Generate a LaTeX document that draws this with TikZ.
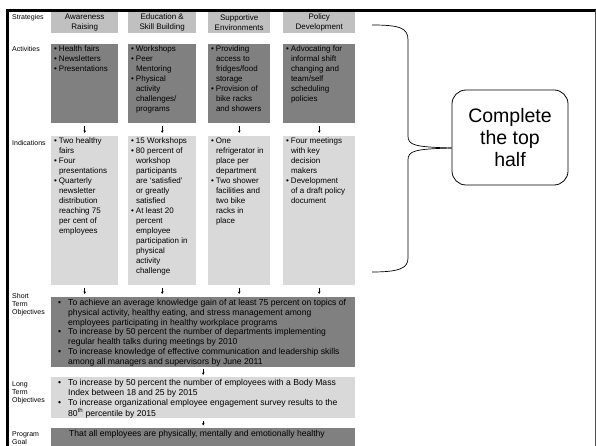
\documentclass[tikz,border=0pt]{standalone}
\usepackage{fontspec}
\setmainfont{Liberation Sans}
\usepackage{xcolor}
\usepackage{tikz}
\usetikzlibrary{arrows.meta}

\definecolor{stratgray}{HTML}{C0C0C0}
\definecolor{actgray}{HTML}{808080}
\definecolor{indgray}{HTML}{D9D9D9}

\newcommand{\cellbox}[3]{\parbox[t][#2][t]{#1}{\raggedright #3}}
\newcommand{\bpt}{\par\hangindent=0.6em\hangafter=1\noindent\makebox[0.6em][l]{\textbullet}}
\newcommand{\wpt}{\par\hangindent=14pt\hangafter=1\noindent\hspace*{4pt}\makebox[10pt][l]{\textbullet}}

\begin{document}
\begin{tikzpicture}[x=1pt, y=-1pt,
    cell/.style={anchor=north west, inner xsep=3pt, inner ysep=2pt, font=\fontsize{8}{10}\selectfont},
    strat/.style={cell, fill=stratgray, minimum height=21pt, inner ysep=0.5pt, align=center},
    act/.style={cell, fill=actgray},
    ind/.style={cell, fill=indgray},
    wide/.style={cell, font=\fontsize{8.6}{9.8}\selectfont},
    rowlabel/.style={anchor=north west, inner sep=0pt, align=left, font=\fontsize{7}{8}\selectfont},
    arr/.style={-{Stealth[length=2.5pt,width=2.6pt]}, line width=0.6pt, shorten <=3pt, shorten >=3pt},
    callout/.style={draw, rounded corners=14pt, line width=0.8pt, minimum width=116pt, minimum height=95pt, align=center, font=\fontsize{19.5}{22}\selectfont}]
    \useasboundingbox (0,0) rectangle (596,446);

    % frame
    \draw[line width=3pt] (7.5,446) -- (7.5,10.5) -- (596,10.5);
    \draw[black!70, line width=1pt] (595,10.5) -- (595,446);

    % row labels
    \node[rowlabel] (lstrat) at (12,14) {Strategies};
    \node[rowlabel] (lact) at (12,46) {Activities};
    \node[rowlabel] (lind) at (12,140) {Indications};
    \node[rowlabel] (lsto) at (12,293) {Short\\Term\\Objectives};
    \node[rowlabel] (llto) at (12,381) {Long\\Term\\Objectives};
    \node[rowlabel] (lpg) at (12,431) {Program\\Goal};

    % strategies
    \node[strat, minimum width=67pt] (str1) at (51,12) {Awareness\\Raising};
    \node[strat, minimum width=68pt] (str2) at (128,12) {Education \&\\Skill Building};
    \node[strat, minimum width=62pt] (str3) at (208,12) {Supportive\\Environments};
    \node[strat, minimum width=72pt] (str4) at (283,12) {Policy\\Development};

    % activities
    \node[act] (act1) at (51,44) {\cellbox{61pt}{75pt}{\bpt Health fairs \bpt Newsletters \bpt Presentations}};
    \node[act] (act2) at (128,44) {\cellbox{62pt}{75pt}{\bpt Workshops \bpt Peer\newline Mentoring \bpt Physical\newline activity\newline challenges/\newline programs}};
    \node[act] (act3) at (208,44) {\cellbox{56pt}{75pt}{\bpt Providing\newline access to\newline fridges/food\newline storage \bpt Provision of\newline bike racks\newline and showers}};
    \node[act] (act4) at (283,44) {\cellbox{66pt}{75pt}{\bpt Advocating for\newline informal shift\newline changing and\newline team/self\newline scheduling\newline policies}};

    % indications
    \node[ind] (ind1) at (51,136) {\cellbox{61pt}{145pt}{\bpt Two healthy\newline fairs \bpt Four\newline presentations \bpt Quarterly\newline newsletter\newline distribution\newline reaching 75\newline per cent of\newline employees}};
    \node[ind] (ind2) at (128,136) {\cellbox{62pt}{145pt}{\bpt 15 Workshops \bpt 80 percent of\newline workshop\newline participants\newline are `satisfied'\newline or greatly\newline satisfied \bpt At least 20\newline percent\newline employee\newline participation in\newline physical\newline activity\newline challenge}};
    \node[ind] (ind3) at (208,136) {\cellbox{56pt}{145pt}{\bpt One\newline refrigerator in\newline place per\newline department \bpt Two shower\newline facilities and\newline two bike\newline racks in\newline place}};
    \node[ind] (ind4) at (283,136) {\cellbox{66pt}{145pt}{\bpt Four meetings\newline with key\newline decision\newline makers \bpt Development\newline of a draft policy\newline document}};

    % objectives and goal
    \node[wide, fill=actgray] (sto) at (51,297) {\cellbox{298pt}{66pt}{\wpt To achieve an average knowledge gain of at least 75 percent on topics of\newline physical activity, healthy eating, and stress management among\newline employees participating in healthy workplace programs \wpt To increase by 50 percent the number of departments implementing\newline regular health talks during meetings by 2010 \wpt To increase knowledge of effective communication and leadership skills\newline among all managers and supervisors by June 2011}};
    \node[wide, fill=indgray] (lto) at (51,377) {\cellbox{298pt}{37pt}{\wpt To increase by 50 percent the number of employees with a Body Mass\newline Index between 18 and 25 by 2015 \wpt To increase organizational employee engagement survey results to the\newline 80\textsuperscript{th} percentile by 2015}};
    \node[wide, fill=actgray] (pg) at (51,428) {\cellbox{298pt}{18pt}{\hspace*{15pt}That all employees are physically, mentally and emotionally healthy}};

    % arrows
    \draw[arr] (act1) -- (ind1);
    \draw[arr] (act2) -- (ind2);
    \draw[arr] (act3) -- (ind3);
    \draw[arr] (act4) -- (ind4);
    \draw[arr] (ind1.south) -- (ind1.south |- sto.north);
    \draw[arr] (ind2.south) -- (ind2.south |- sto.north);
    \draw[arr] (ind3.south) -- (ind3.south |- sto.north);
    \draw[arr] (ind4.south) -- (ind4.south |- sto.north);
    \draw[arr, shorten <=2pt, shorten >=2pt] (sto) -- (lto);
    \draw[arr, shorten <=2.5pt, shorten >=2.5pt] (lto) -- (pg);

    % brace and callout
    \node[callout] (call) at (510,137.5) {Complete\\the top\\half};
    \coordinate (brtop) at (372,25);
    \coordinate (brbot) at (372,272);
    \coordinate (brtip) at (call.west |- 0,148);
    \draw[line width=0.7pt] (brtop) .. controls (400,25) and (408,28) .. (408,40) -- (408,136) .. controls (408,145) and (414,147) .. (brtip);
    \draw[line width=0.7pt] (brtip) .. controls (414,149) and (408,151) .. (408,160) -- (408,258) .. controls (408,268) and (400,272) .. (brbot);
\end{tikzpicture}
\end{document}
